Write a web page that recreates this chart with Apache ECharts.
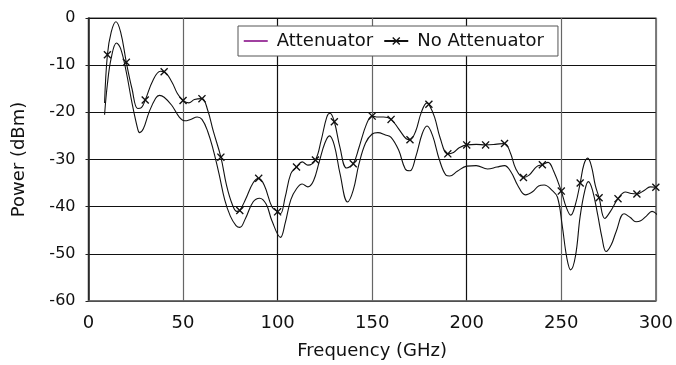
<!DOCTYPE html>
<html>
<head>
<meta charset="utf-8">
<script src="https://cdn.jsdelivr.net/npm/echarts@6/dist/echarts.min.js"></script>
<style>
html,body{margin:0;padding:0;background:#fff;}
#chart{width:676px;height:365px;}
</style>
</head>
<body>
<div id="chart"></div>
<script>
// Frequency ticks and axis ranges
var xTicks = [0, 50, 100, 150, 200, 250, 300];
var yTicks = [0, -10, -20, -30, -40, -50, -60];

// "No Attenuator" curve (upper) – GHz / dBm
var noAttFreq = [8.5, 10, 12, 14.5, 17, 20, 23, 26, 28, 30, 34, 38, 40, 44, 47, 50, 53, 56, 60, 63, 66, 70, 73, 76, 78.5, 80, 83, 87, 90, 93, 97, 100, 101.5, 104, 107, 110, 113, 116, 120, 123, 126, 127.7, 130, 133, 136.5, 140, 143, 147, 150, 153, 156, 160, 164, 168, 170, 173, 176, 179, 180, 183, 186, 190, 193, 196, 200, 205, 210, 215, 220, 223, 226, 230, 233, 237, 240, 243, 246, 250, 252.5, 255, 257.5, 260, 262, 264, 266, 268, 270, 273, 276, 280, 284, 287, 290, 294, 297, 300];
var noAttPow = [-18, -7.8, -3, -0.8, -3, -9.4, -15, -19.2, -19, -17.4, -13.3, -11.3, -11.4, -13.5, -16, -17.5, -18, -17.3, -17.1, -19.5, -24, -29.5, -35.5, -39.5, -41, -40.8, -38.5, -35, -34, -35.5, -40, -41.1, -41.5, -38, -33, -31.6, -30.5, -31.2, -30.1, -26, -21, -20.2, -22, -27.5, -31.8, -30.9, -27.5, -22.5, -20.8, -21, -21, -21.5, -23.5, -25.6, -25.8, -24, -20, -18, -18.3, -21, -25.5, -28.8, -28.5, -27.5, -26.9, -26.8, -26.9, -26.8, -26.6, -28.5, -32, -33.8, -33.3, -31.5, -31.1, -30.6, -32.5, -36.7, -40, -41.8, -39.5, -35, -31, -29.7, -31.5, -35.5, -38.1, -42.5, -41, -38.3, -36.9, -37.2, -37.3, -36.5, -35.8, -35.9];

// "Attenuator" curve (lower) – GHz / dBm
var attFreq = [8.5, 10, 12, 14.8, 17, 20, 23, 26, 27, 29, 32, 35.5, 37.5, 40, 44, 48, 51, 54, 57.5, 60, 63, 66, 69, 72, 75, 78, 80, 83, 87, 90.5, 94, 97, 101.5, 104, 107, 110, 113, 116, 119, 122, 125, 127.4, 130, 133, 137, 140, 143, 146.5, 150, 153, 157, 160, 164, 167.5, 170, 173, 176.5, 179, 182, 185.5, 189, 191, 195, 200, 205, 211, 216, 220, 223.5, 227, 231, 235, 238, 241, 245, 248, 250.5, 253, 255, 257.5, 260, 262.5, 264.3, 266.5, 269.3, 271.5, 273.7, 276.5, 279, 283.2, 286.5, 289.5, 292, 295, 298, 301];
var attPow = [-20.5, -14, -8.5, -5.3, -6.5, -11.5, -18, -23.5, -24.3, -23.5, -20, -17, -16.4, -16.8, -18.5, -21, -21.8, -21.5, -21, -21.5, -24, -28, -33, -38.5, -42, -44, -44.4, -42.5, -39, -38.2, -39.5, -43, -46.5, -43.5, -38.5, -36.2, -35.2, -35.8, -34.5, -30.5, -26.5, -25, -27, -33, -39, -36.5, -31, -26.5, -24.6, -24.3, -24.8, -25.3, -28, -32, -32.4, -29.5, -24.5, -22.9, -25, -30, -33.3, -33.5, -32.5, -31.4, -31.3, -32, -31.6, -31.3, -32.7, -35.5, -37.5, -36.8, -35.6, -35.4, -36.5, -38, -44, -51, -53.4, -50.5, -42, -36.5, -34.7, -36.5, -41.8, -46.5, -49.5, -48, -45.3, -41.5, -42.3, -43.2, -43, -42, -41, -41.8];

// Frequencies that carry an "x" marker on the No Attenuator curve
var markerFreq = [10, 20, 30, 40, 50, 60, 70, 80, 90, 100, 110, 120, 130, 140, 150, 160, 170, 180, 190, 200, 210, 220, 230, 240, 250, 260, 270, 280, 290, 300];

var crossPath = 'path://M0,1.2L1.2,0L5,3.8L8.8,0L10,1.2L6.2,5L10,8.8L8.8,10L5,6.2L1.2,10L0,8.8L3.8,5Z';

var noAttData = noAttFreq.map(function (f, i) {
  var item = { value: [f, noAttPow[i]] };
  if (markerFreq.indexOf(f) < 0) item.symbol = 'none';
  return item;
});
var attData = attFreq.map(function (f, i) { return [f, attPow[i]]; });

var FONT = 'DejaVu Sans';
var chart = echarts.init(document.getElementById('chart'), null, { renderer: 'canvas' });
chart.setOption({
  animation: false,
  backgroundColor: '#ffffff',
  grid: {
    left: 88.5, right: 8.5, top: 18, bottom: 62,
    show: true, borderColor: '#777', borderWidth: 1.5, backgroundColor: 'transparent'
  },
  legend: {
    left: 238, top: 26,
    orient: 'horizontal',
    backgroundColor: '#fff',
    borderColor: '#555', borderWidth: 1,
    padding: [6, 14, 6, 5],
    itemGap: 10,
    itemWidth: 24, itemHeight: 10,
    textStyle: { fontFamily: FONT, fontSize: 18, color: '#111', padding: [0, 0, 0, 4] },
    data: [
      { name: 'Attenuator', itemStyle: { color: 'rgba(0,0,0,0)', opacity: 0, borderWidth: 0 }, lineStyle: { color: '#800080', width: 1.5 } },
      { name: 'No Attenuator' }
    ]
  },
  xAxis: {
    type: 'value',
    min: xTicks[0], max: xTicks[xTicks.length - 1], interval: 50,
    name: 'Frequency (GHz)', nameLocation: 'middle', nameGap: 41,
    nameTextStyle: { fontFamily: FONT, fontSize: 18, color: '#111' },
    axisLine: { show: true, onZero: false, lineStyle: { color: '#666', width: 1.5 } },
    axisTick: { show: false },
    axisLabel: { fontFamily: FONT, fontSize: 18, color: '#111', margin: 13 },
    splitLine: { show: true, lineStyle: { color: ['#444', '#666', '#111', '#666', '#111', '#666', '#777'], width: 1.2 } }
  },
  yAxis: {
    type: 'value',
    min: yTicks[yTicks.length - 1], max: yTicks[0], interval: 10,
    name: 'Power (dBm)', nameLocation: 'middle', nameGap: 60, nameRotate: 90,
    nameTextStyle: { fontFamily: FONT, fontSize: 18, color: '#111' },
    axisLine: { show: true, lineStyle: { color: '#222', width: 1.5 } },
    axisTick: { show: true, length: 3, lineStyle: { color: '#222' } },
    axisLabel: { fontFamily: FONT, fontSize: 16, color: '#111', margin: 13 },
    splitLine: { show: true, lineStyle: { color: '#111', width: 1.2 } }
  },
  series: [
    {
      name: 'Attenuator', type: 'line', data: attData, smooth: 0.4,
      symbol: 'none', showSymbol: false,
      lineStyle: { color: '#111', width: 1.1 },
      itemStyle: { color: '#111' },
      z: 3
    },
    {
      name: 'No Attenuator', type: 'line', data: noAttData, smooth: 0.4,
      symbol: crossPath, symbolSize: 8, showSymbol: true, showAllSymbol: true,
      lineStyle: { color: '#111', width: 1.1 },
      itemStyle: { color: '#111' },
      z: 4
    }
  ]
});
</script>
</body>
</html>
